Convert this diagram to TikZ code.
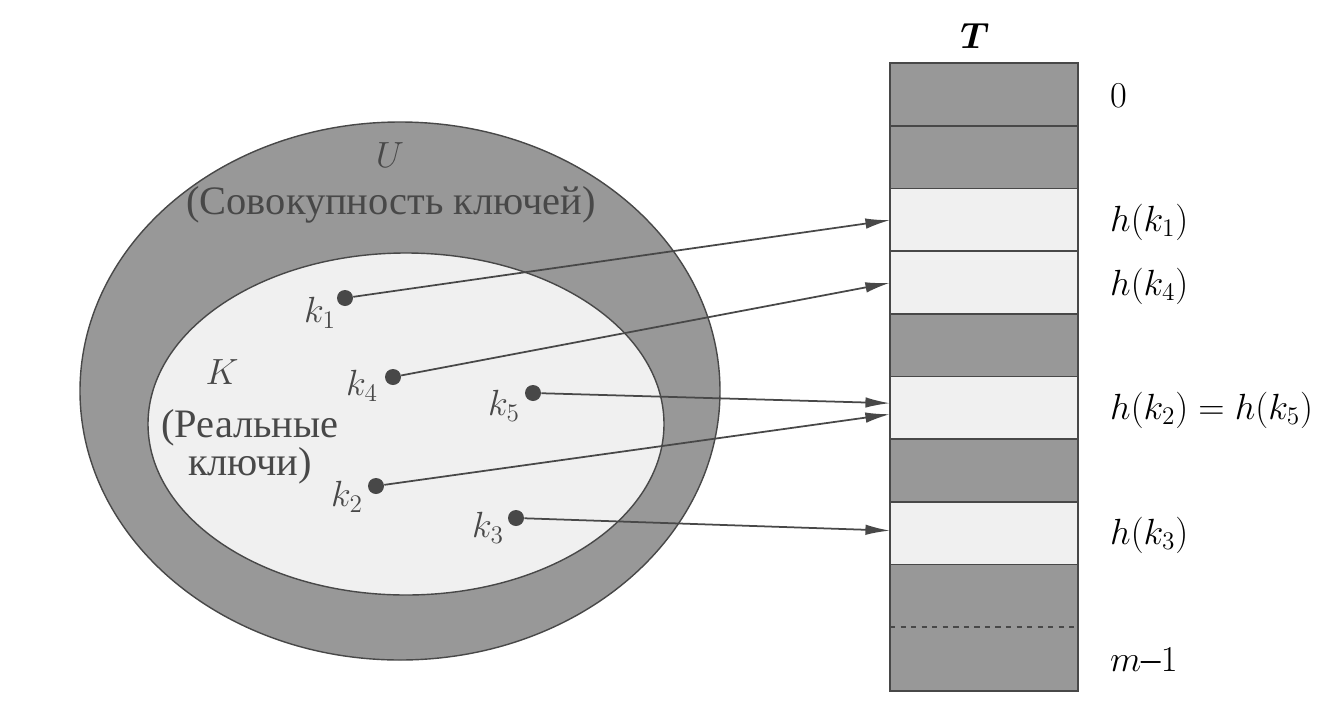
\documentclass[tikz,border=0pt]{standalone}
\usepackage{fontspec}
\usepackage{bm}
\setmainfont{Liberation Serif}
\usetikzlibrary{arrows.meta}
\definecolor{darkcell}{RGB}{152,152,152}
\definecolor{lightcell}{RGB}{240,240,240}
\definecolor{ink}{RGB}{72,72,72}
\begin{document}
\begin{tikzpicture}[x=0.02cm,y=-0.02cm,
	cell/.style={inner sep=0pt,minimum width=3.74cm,minimum height=1.254cm,anchor=north west},
	dot/.style={circle,fill=ink,inner sep=0pt,minimum size=0.32cm},
	hash/.style={draw=ink,line width=1pt,-{Latex[length=14pt,width=6pt]}},
	lbl/.style={font=\fontsize{22}{25}\selectfont},
	cyr/.style={font=\fontsize{23}{19}\selectfont,text=ink}]
	
	\useasboundingbox (0,0) rectangle (1343,714);
	
	% universe U and the keys K
	\draw[ink,line width=0.8pt][fill=darkcell](400,391) ellipse [x radius=320,y radius=269];
	\draw[ink,line width=0.8pt][fill=lightcell](406,424) ellipse [x radius=258,y radius=171];
	
	\node[lbl,ink] (U) at (390,155){$U$};
	\node[cyr] (Utxt) at (391,205){(Совокупность ключей)};
	\node[lbl,ink] (K) at (222,372){$K$};
	\node[cyr,align=center] (Ktxt) at (250,447){(Реальные\\ключи)};
	
	% table T
	\foreach \i/\c in {0/darkcell,1/darkcell,2/lightcell,3/lightcell,4/darkcell,
		5/lightcell,6/darkcell,7/lightcell,8/darkcell,9/darkcell}
	\node[cell,fill=\c] (r\i) at (890,63+62.7*\i){};
	\draw[ink,line width=1pt](r0.north west) rectangle (r9.south east);
	\foreach \i in {1,...,8}
	\draw[ink,line width=1pt](r\i.north west)--(r\i.north east);
	\draw[ink,line width=1pt,dashed](r9.north west)--(r9.north east);
	
	\node[lbl] (T) at (975,36){$\bm{T}$};
	\node[lbl,anchor=west] (l0) at (1104,96){$0$};
	\node[lbl,anchor=west] (l2) at (1104,222){$h(k_1)$};
	\node[lbl,anchor=west] (l3) at (1104,286){$h(k_4)$};
	\node[lbl,anchor=west] (l5) at (1104,410){$h(k_2)=h(k_5)$};
	\node[lbl,anchor=west] (l7) at (1104,535){$h(k_3)$};
	\node[lbl,anchor=west] (l9) at (1104,660){$m$--$1$};
	
	% keys
	\node[dot] (k1) at (345,298){};
	\node[lbl,ink] at (320,313){$k_1$};
	\node[dot] (k4) at (393,377){};
	\node[lbl,ink] at (362,386){$k_4$};
	\node[dot] (k5) at (533,393){};
	\node[lbl,ink] at (504,406){$k_5$};
	\node[dot] (k2) at (376,486){};
	\node[lbl,ink] at (347,497){$k_2$};
	\node[dot] (k3) at (516,518){};
	\node[lbl,ink] at (488,528){$k_3$};
	
	% hashing
	\draw[hash](k1)--(r2.west);
	\draw[hash](k4)--(r3.west);
	\draw[hash](k5)--([yshift=0.1cm]r5.west);
	\draw[hash](k2)--([yshift=-0.12cm]r5.west);
	\draw[hash](k3)--([yshift=0.06cm]r7.west);
	
\end{tikzpicture}
\end{document}
